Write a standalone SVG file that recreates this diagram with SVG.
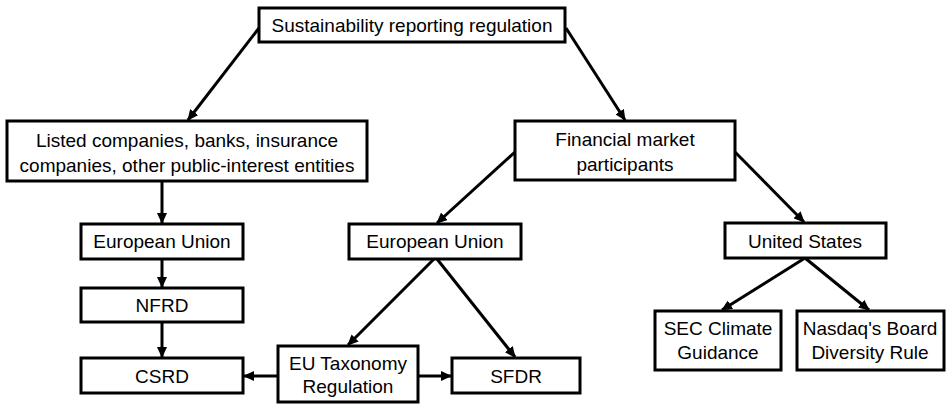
<svg xmlns="http://www.w3.org/2000/svg" width="946" height="404" viewBox="0 0 946 404">
  <style>
    .box { fill: #ffffff; stroke: #000000; stroke-width: 3; }
    .lbl { font-family: "Liberation Sans", Arial, sans-serif; font-size: 19px; fill: #000000; text-anchor: middle; }
    .edge { fill: none; stroke: #000000; stroke-width: 3; marker-end: url(#arrow); }
  </style>
  <defs>
    <marker id="arrow" markerUnits="userSpaceOnUse" markerWidth="11" markerHeight="10" viewBox="0 0 11 10" refX="10" refY="5" orient="auto">
      <path d="M0,0 L11,5 L0,10 Z" fill="#000000"/>
    </marker>
  </defs>
  <rect width="946" height="404" fill="#ffffff"/>

  <!-- connectors -->
  <g id="connectors">
    <line class="edge" x1="259" y1="28" x2="188" y2="120"/>
    <line class="edge" x1="566" y1="28" x2="625" y2="120"/>
    <line class="edge" x1="162" y1="181" x2="162" y2="223"/>
    <line class="edge" x1="162" y1="259" x2="162" y2="287"/>
    <line class="edge" x1="162" y1="322" x2="162" y2="357"/>
    <line class="edge" x1="515" y1="152" x2="437" y2="223"/>
    <line class="edge" x1="735" y1="152" x2="804" y2="222"/>
    <line class="edge" x1="434" y1="259" x2="348" y2="345"/>
    <line class="edge" x1="437" y1="259" x2="515" y2="357"/>
    <line class="edge" x1="278" y1="376" x2="244" y2="376"/>
    <line class="edge" x1="418" y1="376" x2="451" y2="376"/>
    <line class="edge" x1="805" y1="258" x2="722" y2="310"/>
    <line class="edge" x1="805" y1="258" x2="869" y2="310"/>
  </g>

  <!-- nodes -->
  <g id="root">
    <rect class="box" x="259" y="8" width="306" height="34"/>
    <text class="lbl" x="412" y="32">Sustainability reporting regulation</text>
  </g>
  <g id="listed">
    <rect class="box" x="7" y="121" width="360" height="60"/>
    <text class="lbl" x="187" y="147">Listed companies, banks, insurance</text>
    <text class="lbl" x="187" y="172">companies, other public-interest entities</text>
  </g>
  <g id="fmp">
    <rect class="box" x="515" y="121" width="220" height="59"/>
    <text class="lbl" x="625" y="146">Financial market</text>
    <text class="lbl" x="625" y="171">participants</text>
  </g>
  <g id="eu-left">
    <rect class="box" x="81" y="224" width="162" height="35"/>
    <text class="lbl" x="162" y="248">European Union</text>
  </g>
  <g id="nfrd">
    <rect class="box" x="81" y="288" width="162" height="34"/>
    <text class="lbl" x="162" y="312">NFRD</text>
  </g>
  <g id="csrd">
    <rect class="box" x="81" y="358" width="162" height="35"/>
    <text class="lbl" x="162" y="383">CSRD</text>
  </g>
  <g id="eu-right">
    <rect class="box" x="349" y="224" width="172" height="35"/>
    <text class="lbl" x="435" y="248">European Union</text>
  </g>
  <g id="taxonomy">
    <rect class="box" x="278" y="346" width="140" height="56"/>
    <text class="lbl" x="348" y="370">EU Taxonomy</text>
    <text class="lbl" x="348" y="393">Regulation</text>
  </g>
  <g id="sfdr">
    <rect class="box" x="452" y="358" width="128" height="35"/>
    <text class="lbl" x="516" y="383">SFDR</text>
  </g>
  <g id="us">
    <rect class="box" x="725" y="223" width="161" height="35"/>
    <text class="lbl" x="805" y="248">United States</text>
  </g>
  <g id="sec">
    <rect class="box" x="655" y="311" width="126" height="59"/>
    <text class="lbl" x="718" y="335">SEC Climate</text>
    <text class="lbl" x="718" y="359">Guidance</text>
  </g>
  <g id="nasdaq">
    <rect class="box" x="797" y="311" width="147" height="59"/>
    <text class="lbl" x="870" y="335">Nasdaq's Board</text>
    <text class="lbl" x="870" y="359">Diversity Rule</text>
  </g>
</svg>
